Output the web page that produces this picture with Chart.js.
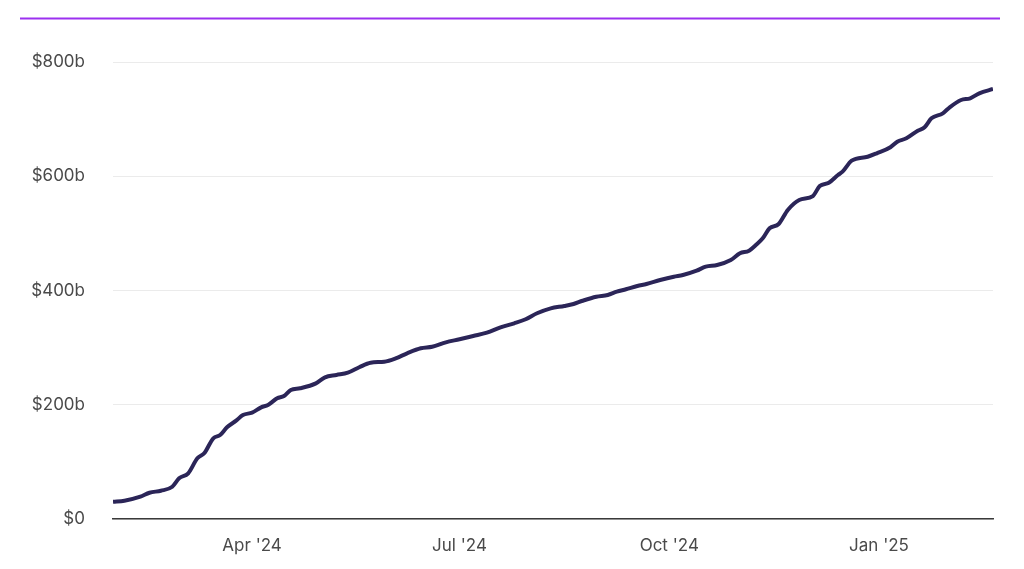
<!DOCTYPE html>
<html>
<head>
<meta charset="utf-8">
<script src="https://cdn.jsdelivr.net/npm/chart.js@4"></script>
<style>
html,body{margin:0;padding:0;background:#fff;}
#wrap{position:relative;width:1024px;height:569px;}
</style>
</head>
<body>
<div id="wrap"><canvas id="c" width="1024" height="569"></canvas></div>
<script>
// Data
const dates = [
 '2024-01-31','2024-02-05','2024-02-12','2024-02-16','2024-02-21','2024-02-26','2024-02-29',
 '2024-03-04','2024-03-08','2024-03-11','2024-03-15','2024-03-18','2024-03-21','2024-03-25','2024-03-28',
 '2024-04-01','2024-04-05','2024-04-08','2024-04-12','2024-04-15','2024-04-18','2024-04-22','2024-04-29',
 '2024-05-03','2024-05-08','2024-05-13','2024-05-18','2024-05-23','2024-05-29',
 '2024-06-03','2024-06-08','2024-06-14','2024-06-19','2024-06-25',
 '2024-07-01','2024-07-07','2024-07-13','2024-07-19','2024-07-25','2024-07-30',
 '2024-08-04','2024-08-10','2024-08-16','2024-08-20','2024-08-24','2024-08-30',
 '2024-09-04','2024-09-08','2024-09-12','2024-09-17','2024-09-21','2024-09-27',
 '2024-10-03','2024-10-07','2024-10-13','2024-10-17','2024-10-22','2024-10-28',
 '2024-11-01','2024-11-05','2024-11-08','2024-11-11','2024-11-14','2024-11-18','2024-11-22','2024-11-27',
 '2024-12-03','2024-12-06','2024-12-10','2024-12-14','2024-12-16','2024-12-20','2024-12-27','2024-12-31',
 '2025-01-06','2025-01-09','2025-01-13','2025-01-18','2025-01-21','2025-01-24','2025-01-29',
 '2025-02-01','2025-02-06','2025-02-10','2025-02-14','2025-02-20'
];
const values = [
 30.3,32.0,39.0,46.0,49.5,56.5,71.2,
 80.0,106.3,115.0,141.3,147.0,160.5,172.1,182.1,
 186.1,195.5,199.6,211.3,215.3,225.8,228.8,237.5,
 248.0,252.1,256.1,265.6,273.6,275.4,
 281.3,290.1,298.8,301.6,309.3,
 314.6,320.3,326.1,335.6,342.6,349.6,
 360.1,368.8,372.9,376.4,382.1,389.1,
 392.1,397.9,402.1,407.9,411.4,418.4,
 424.2,427.1,434.7,441.7,444.6,453.4,
 465.1,469.7,479.6,491.4,508.9,516.4,540.9,558.4,
 565.4,582.9,588.7,602.2,608.0,627.2,634.2,640.2,
 650.7,660.5,666.4,679.7,685.7,701.4,710.2,
 720.7,733.5,736.4,745.2,752.7
];
const xTickDates = ['2024-04-01','2024-07-01','2024-10-01','2025-01-01'];
const xTickLabels = ["Apr '24","Jul '24","Oct '24","Jan '25"];
const yTickValues = [0,200,400,600,800];
const yTickLabels = ['$0','$200b','$400b','$600b','$800b'];

const startDate = dates[0];
const endDate = dates[dates.length-1];
function dayOf(s){
  const [y,m,d] = s.split('-').map(Number);
  const [y0,m0,d0] = startDate.split('-').map(Number);
  return Math.round((Date.UTC(y,m-1,d) - Date.UTC(y0,m0-1,d0))/86400000);
}
const points = dates.map((d,i)=>({x:dayOf(d), y:values[i]}));
const xTickPos = xTickDates.map(dayOf);

const topRule = {
  id:'topRule',
  afterDraw(chart){
    const ctx = chart.ctx;
    ctx.save();
    ctx.strokeStyle = '#9b30f0';
    ctx.lineWidth = 2;
    ctx.beginPath();
    ctx.moveTo(20, 18.5);
    ctx.lineTo(1000, 18.5);
    ctx.stroke();
    ctx.restore();
  }
};

new Chart(document.getElementById('c'), {
  type:'line',
  data:{datasets:[{
    data: points,
    borderColor:'#2b2558',
    borderWidth:4,
    pointRadius:0,
    tension:0.4,
    cubicInterpolationMode:'monotone',
    fill:false
  }]},
  options:{
    responsive:false,
    animation:false,
    devicePixelRatio:1,
    layout:{padding:{top:62,right:31,left:0,bottom:0}},
    plugins:{legend:{display:false},tooltip:{enabled:false}},
    scales:{
      x:{
        type:'linear',
        min:0,
        max:dayOf(endDate),
        grid:{display:false,drawTicks:false},
        border:{display:true,color:'#3a3a3a',width:1.5},
        afterBuildTicks(scale){ scale.ticks = xTickPos.map(v=>({value:v})); },
        afterFit(scale){ scale.height = 50; },
        ticks:{
          autoSkip:false,
          maxRotation:0,
          padding:17,
          color:'#4a4a4a',
          font:{family:'Inter',size:17},
          callback(v){ const i = xTickPos.indexOf(v); return i>=0 ? xTickLabels[i] : ''; }
        }
      },
      y:{
        min:0,max:800,
        grid:{color:'#ebebeb',lineWidth:1,drawTicks:false},
        border:{display:false},
        afterBuildTicks(scale){ scale.ticks = yTickValues.map(v=>({value:v})); },
        afterFit(scale){ scale.width = 113; },
        ticks:{
          padding:28,
          color:'#4a4a4a',
          font:{family:'Inter',size:17},
          callback(v){ const i = yTickValues.indexOf(v); return i>=0 ? yTickLabels[i] : ''; }
        }
      }
    }
  },
  plugins:[topRule]
});
</script>
</body>
</html>
